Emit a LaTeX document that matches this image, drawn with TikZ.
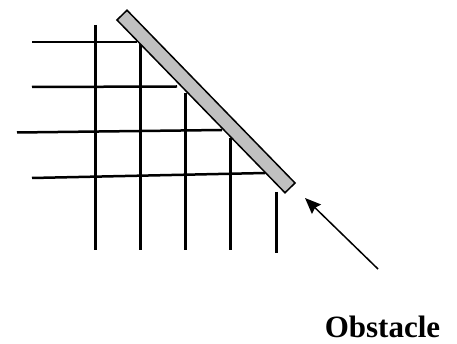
\documentclass[tikz,border=0pt]{standalone}
\usepackage{fontspec}
\setmainfont{Liberation Serif}
\usetikzlibrary{arrows.meta, positioning}
\definecolor{obsGray}{HTML}{C0C0C0}

\begin{document}
\begin{tikzpicture}[x=1pt, y=-1pt]
    \useasboundingbox (0,0) rectangle (457,344);
    % vertical bars
    \foreach \x/\t/\b in {95/25/250, 140/42/250, 185/93/250, 230/138/250, 276/192/253} {
      \draw[line width=3pt] (\x,\t) -- (\x,\b);
    }
    % horizontal bars
    \foreach \l/\r/\yl/\yr in {32/137/42/42, 32/177/87/86.5, 17/222/132.5/130, 32/265/178/173} {
      \draw[line width=2.5pt] (\l,\yl) -- (\r,\yr);
    }
    \node[draw, line width=1.5pt, fill=obsGray, rotate=-45.8, minimum width=241pt,
          minimum height=14pt, inner sep=0pt] (obstacle) at (206,101.5) {};
    \coordinate (tip) at (305,198);
    \coordinate (tail) at (378,269);
    \draw[line width=1.5pt, -{Stealth[length=16pt, width=13pt, inset=2pt]}] (tail) -- (tip);
    \node[anchor=base, inner sep=0pt] (label) at (382.5,337)
      {\fontsize{31}{36}\selectfont\bfseries Obstacle};
  \end{tikzpicture}
\end{document}
